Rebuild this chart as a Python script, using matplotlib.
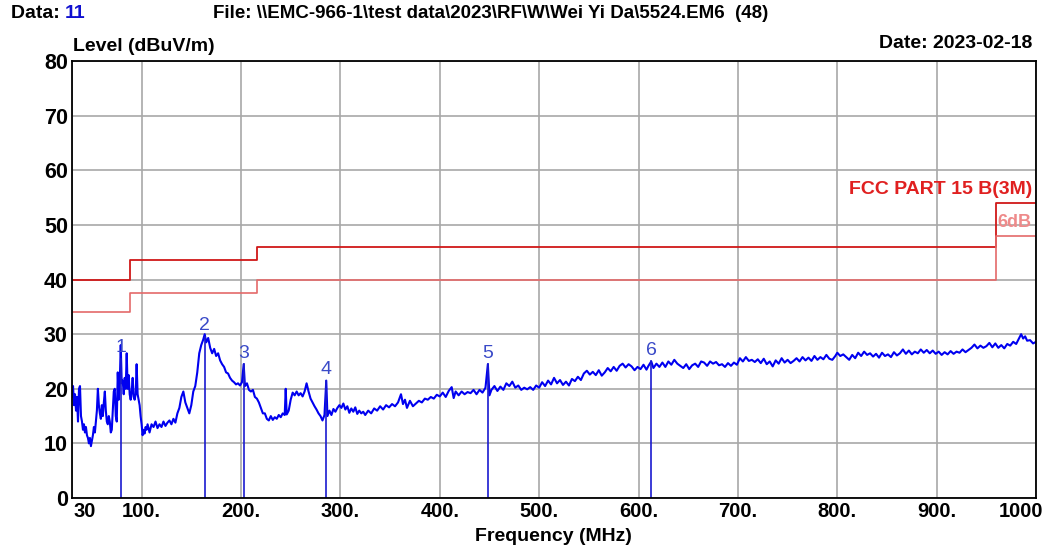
import matplotlib.pyplot as plt

# scan trace (MHz, dBuV/m)
freq = [30, 31, 32, 33, 34, 35, 36, 37, 38, 39, 40, 41, 42, 43, 44, 45, 46, 47, 48, 49,
        50, 51, 52, 53, 54, 55, 56, 57, 58, 59, 60, 61, 62, 63, 64, 65, 66, 67, 68, 69,
        70, 71, 72, 73, 74, 75, 76, 77, 78, 79, 80, 81, 82, 83, 84, 85, 86, 87, 88, 89,
        90, 91, 92, 93, 94, 95, 96, 97, 98, 99, 100, 101, 102, 103, 104, 105,
        106, 108, 110, 112, 114, 116, 118, 120, 122, 124, 126, 128, 130, 132, 134, 136,
        138, 140, 142, 144, 146, 148, 150, 152, 154, 156, 158, 160, 162, 163.5, 165, 167,
        169, 171, 173, 175, 177, 179, 181, 183, 185, 187, 189, 191, 193, 195, 197, 199,
        201, 202.7, 204, 206, 208, 210, 212, 214, 216, 218, 220, 222,
        224, 226, 228, 230, 232, 234, 236, 238, 240, 242, 244, 245, 246, 248, 250, 252,
        254, 256, 258, 260, 262, 264, 266, 268, 270, 272, 274, 276, 278, 280, 282, 284,
        285.8, 287, 289, 291, 293, 295, 297, 299, 301, 303, 305, 307, 309, 311, 313, 315,
        317, 319, 321, 323, 325, 328, 331, 334, 337, 340, 343, 346, 349, 352, 355, 358,
        361, 363, 365, 367, 370, 373, 376, 379, 382, 385, 388, 391, 394, 397, 400, 403,
        406, 409, 412, 414, 416, 419, 422, 425, 428,
        431, 434, 437, 440, 443, 446, 448.4, 450, 452, 455, 458, 461, 464, 467, 470, 473,
        476, 479, 482, 485, 488, 491, 494, 497, 500, 503, 506, 509, 512, 515, 518, 521,
        524, 527, 530, 533, 536, 539, 542, 545, 548, 551, 554, 557, 560, 563, 566, 569,
        572, 575, 578, 581, 584, 587, 590, 593, 596, 599, 602, 605, 608, 610, 612.8, 615,
        618, 621,
        624, 627, 630, 633, 636, 639, 642, 645, 648, 651, 654, 657, 660, 663, 666, 669,
        672, 675, 678, 681, 684, 687, 690, 693, 696, 699, 702, 705, 708, 711, 714, 717,
        720, 723, 726, 729, 732, 735, 738, 741, 744, 747, 750, 753, 756, 759, 762, 765,
        768, 771, 774, 777, 780, 783, 786, 789, 792, 795, 798, 800, 803, 806, 809,
        812, 815, 818, 821, 824, 827, 830, 833, 836, 839, 842, 845, 848, 851, 854, 857,
        860, 863, 866, 869, 872, 875, 878, 881, 884, 887, 890, 893, 896, 899, 902, 905,
        908, 911, 914, 917, 920, 923, 926, 929, 932, 935, 938, 941, 944, 947, 950, 953,
        956, 959, 962, 965, 968, 971, 974, 977, 980, 983, 985, 987, 989, 991, 994, 997, 1000]
level = [18.5, 20.5, 17, 19, 16, 18.5, 14, 20, 20.5, 15, 14, 12.5, 13.5, 12, 13, 11.5, 11, 10, 11, 9.5,
         10.5, 11.5, 13, 12, 14, 16, 20, 17, 15.5, 14.5, 17, 15, 17.5, 19.5, 16, 14, 13.5, 15, 14, 12,
         12.5, 16, 19.5, 20, 15, 14, 23, 18, 21, 28, 21, 21.5, 19, 22, 20, 26.5, 20, 22.5, 19, 18,
         19.5, 22, 18.5, 18, 19, 24.5, 19, 18, 17, 15, 13.5, 11.5, 12.5, 11.8, 13, 12.5,
         13.5, 12, 13.5, 13, 14, 12.8, 13.5, 13, 14, 13.2, 13.8, 14.2, 13.5, 14.5, 13.8, 15.5,
         16.5, 18.5, 19.5, 17.5, 16.5, 15.5, 17, 19.5, 20.5, 23, 26.5, 28, 29, 30, 28.5, 29.3,
         27.5, 26.5, 27.3, 26, 26.5, 25.2, 24.5, 24, 23, 22.8, 22, 21.5, 21.2, 20.8, 21, 20.6,
         21.2, 24.5, 20.5, 21, 19.8, 19.5, 19.8, 18.5, 18.2, 17.5, 16.5, 15.5,
         15.5, 14.5, 14.2, 15, 14.3, 14.8, 14.5, 15.2, 14.8, 15.5, 15.2, 20, 15.3, 16, 18, 19.3,
         18.8, 19.5, 18.8, 19.2, 18.6, 19.5, 21, 19.5, 18.2, 17.5, 16.8, 16.2, 15.5, 15, 14.2, 15.2,
         21.5, 15, 16, 15.2, 16.3, 15.8, 16.5, 17, 16.5, 17.3, 16.2, 16.8, 15.6, 16.4, 15.8, 16.6,
         15.4, 16, 15.5, 15.8, 15.2, 16, 15.5, 16.4, 16, 16.8, 16.2, 17, 16.6, 17.2, 16.8, 17.5,
         19, 17.2, 18, 16.5, 17.8, 16.8, 17.3, 17.8, 17.5, 18.2, 18, 18.5, 18.2, 18.9, 18.6, 19.3,
         18.5, 19.6, 20.3, 18.3, 19.5, 18.8, 19.5, 19, 19.4,
         19.2, 19.8, 19, 19.8, 19.3, 20.2, 24.5, 18.8, 19.8, 20.5, 19.6, 20.4, 19.8, 21, 20.5, 21.3,
         20.2, 20.6, 19.8, 20.2, 19.9, 20.3, 19.8, 20.6, 20.2, 21.2, 20.5, 21.5, 20.8, 22, 21, 21.6,
         20.7, 21.3, 20.6, 21.8, 21.4, 22.2, 21.6, 22.8, 23.3, 22.6, 23.1, 22.5, 23.4, 22.4, 23, 23.8,
         23.2, 24, 23.3, 24.2, 24.6, 23.9, 24.5, 24.1, 23.4, 24, 23.6, 24.4, 23.5, 24.2, 25, 23.8,
         24.6, 24,
         24.8, 24, 25, 24.4, 25.3, 24.6, 24.2, 23.8, 24.5, 23.6, 24.3, 24.6, 24, 25, 24.8, 24.2,
         25, 24.6, 24.9, 24.3, 24.5, 24, 24.7, 24.2, 24.8, 24.4, 25.6, 25, 25.8, 25.1, 25.3, 24.9,
         25.4, 24.7, 25.5, 24.5, 25, 24.1, 25.2, 24.6, 25.6, 24.8, 25.3, 24.7, 25.1, 25.6, 25, 25.8,
         25.2, 25.7, 25.1, 26, 25.3, 25.8, 25.4, 26.2, 25.5, 25.3, 26, 26.6, 26, 26.3, 25.8,
         25.3, 26.2, 25.6, 26.6, 26, 26.8, 26.2, 26.5, 25.9, 26.4, 25.7, 26.6, 26, 26.3, 25.8, 26.7,
         26.1, 26.5, 27.2, 26.4, 27, 26.3, 26.8, 26.5, 27.2, 26.6, 27.1, 26.5, 27, 26.4, 26.8, 26.2,
         26.7, 26.3, 26.9, 26.4, 26.8, 26.6, 27.2, 26.7, 27.1, 27.5, 28.1, 27.4, 27.9, 27.5, 27.8, 28.4,
         27.6, 28.3, 27.5, 28, 27.4, 28.2, 27.9, 28.6, 28.2, 29.3, 30, 29.2, 29.6, 28.8, 28.9, 28.3, 28.6]

# FCC part 15 B (3m) limit, steps
lim_f = [30, 88, 88, 216, 216, 960, 960, 1000]
lim_v = [40, 40, 43.5, 43.5, 46, 46, 54, 54]
margin = 6

# marked peaks
mk_f = [79, 163.5, 202.7, 285.8, 448.4, 612.8]
mk_v = [25.5, 29.5, 24.5, 21.5, 24.5, 25]

xt = [30, 100, 200, 300, 400, 500, 600, 700, 800, 900, 1000]
xt_lab = ['30', '100.', '200.', '300.', '400.', '500.', '600.', '700.', '800.', '900.', '1000']

plt.rcParams['font.family'] = ['Liberation Sans', 'DejaVu Sans']

fig = plt.figure(figsize=(10.44, 5.5), dpi=100)
ax = fig.add_axes([0.069, 0.0945, 0.9234, 0.7945])

ax.plot(freq, level, color='#0000f0', lw=1.5)
ax.plot(lim_f, lim_v, color='#d01818', lw=1.3)
ax.plot(lim_f, [v - margin for v in lim_v], color='#e46a6a', lw=1.2)

for i in range(len(mk_f)):
    ax.plot([mk_f[i], mk_f[i]], [0, mk_v[i]], color='#1a1ad0', lw=1.2)
    ax.text(mk_f[i], mk_v[i] + 2, str(i + 1), color='#3a4ac8', fontsize=14,
            ha='center', va='center')

ax.text(996, 56.4, 'FCC PART 15 B(3M)', color='#e02020', fontsize=14,
        fontweight='bold', ha='right', va='center')
ax.text(995, 50.5, '6dB', color='#ee8a8a', fontsize=13, fontweight='bold',
        ha='right', va='center')

ax.set_xlim(30, 1000)
ax.set_ylim(0, 80)
ax.set_xticks(xt)
ax.set_xticklabels([])
xtrans = ax.get_xaxis_transform()
for t, lab in zip(xt, xt_lab):
    if t == xt[0]:
        ha, dx = 'left', 1
    elif t == xt[-1]:
        ha, dx = 'left', -27
    else:
        ha, dx = 'center', 0
    ax.annotate(lab, xy=(t, 0), xycoords=xtrans, xytext=(dx, -3),
                textcoords='offset points', ha=ha, va='top', fontsize=14.5,
                fontweight='bold', annotation_clip=False)
ax.set_yticks(range(0, 90, 10))
ax.set_yticklabels([str(t) for t in range(0, 90, 10)], fontsize=15.5, fontweight='bold')
ax.tick_params(length=0, pad=3)
ax.grid(True, color='#a8a8a8', lw=1.2)
for s in ax.spines.values():
    s.set_linewidth(1.3)
    s.set_color('black')

fig.text(0.011, 0.975, 'Data: ', fontsize=14, fontweight='bold', va='center')
fig.text(0.062, 0.975, '11', fontsize=14, fontweight='bold', color='#1010d0', va='center')
fig.text(0.204, 0.975, 'File: \\\\EMC-966-1\\test data\\2023\\RF\\W\\Wei Yi Da\\5524.EM6  (48)',
         fontsize=13.5, fontweight='bold', va='center')
fig.text(0.07, 0.915, 'Level (dBuV/m)', fontsize=14, fontweight='bold', va='center')
fig.text(0.989, 0.92, 'Date: 2023-02-18', fontsize=14, fontweight='bold', ha='right', va='center')
fig.text(0.53, 0.025, 'Frequency (MHz)', fontsize=14, fontweight='bold', ha='center', va='center')

fig.savefig('out.png', dpi=100)
